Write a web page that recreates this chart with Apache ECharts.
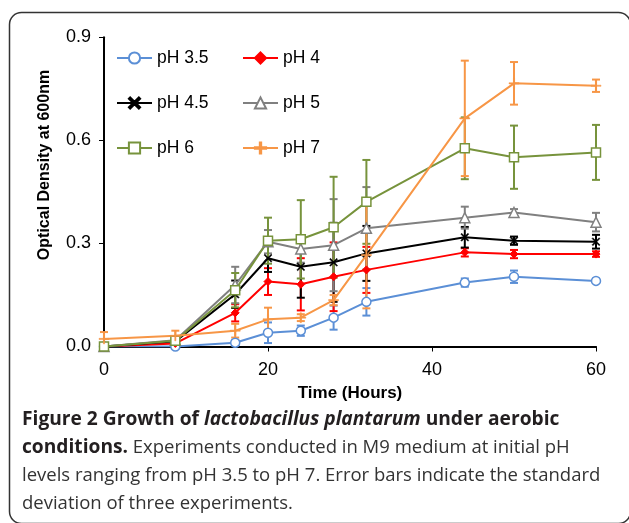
<!DOCTYPE html>
<html>
<head>
<meta charset="utf-8">
<script src="https://cdn.jsdelivr.net/npm/echarts@6/dist/echarts.min.js"></script>
<style>
html,body{margin:0;padding:0;background:#fff;}
#chart{width:629px;height:523px;}
</style>
</head>
<body>
<div id="chart"></div>
<script>
// ---- data ----
const times = [0, 8.7, 16, 20, 24, 28, 32, 44, 50, 60];
const seriesNames = ['pH 3.5', 'pH 4', 'pH 4.5', 'pH 5', 'pH 6', 'pH 7'];
const ph35 = [0, 0, 0.011, 0.040, 0.046, 0.084, 0.130, 0.186, 0.203, 0.191];
const ph35Err = [0.003, 0.003, 0.008, 0.030, 0.015, 0.035, 0.040, 0.012, 0.018, 0.006];
const ph4 = [0, 0.009, 0.098, 0.189, 0.181, 0.203, 0.223, 0.274, 0.269, 0.269];
const ph4Err = [0.003, 0.005, 0.025, 0.039, 0.076, 0.100, 0.067, 0.012, 0.012, 0.008];
const ph45 = [0, 0.015, 0.152, 0.257, 0.232, 0.245, 0.271, 0.318, 0.308, 0.305];
const ph45Err = [0.003, 0.005, 0.040, 0.040, 0.090, 0.115, 0.080, 0.030, 0.012, 0.020];
const ph5 = [0, 0.018, 0.179, 0.305, 0.284, 0.295, 0.344, 0.375, 0.390, 0.362];
const ph5Err = [0.003, 0.006, 0.053, 0.034, 0.040, 0.134, 0.120, 0.032, 0.010, 0.027];
const ph6 = [0, 0.017, 0.164, 0.308, 0.312, 0.347, 0.421, 0.577, 0.551, 0.565];
const ph6Err = [0.003, 0.008, 0.050, 0.067, 0.114, 0.147, 0.122, 0.090, 0.092, 0.080];
const ph7 = [0.022, 0.031, 0.046, 0.079, 0.084, 0.135, 0.266, 0.664, 0.766, 0.759];
const ph7Err = [0.020, 0.015, 0.020, 0.034, 0.010, 0.015, 0.155, 0.168, 0.062, 0.018];
const yTicks = [0, 0.3, 0.6, 0.9];
const xTicks = [0, 20, 40, 60];
const xTitle = 'Time (Hours)';
const yTitle = 'Optical Density at 600nm';

// ---- styles ----
const values = [ph35, ph4, ph45, ph5, ph6, ph7];
const errs = [ph35Err, ph4Err, ph45Err, ph5Err, ph6Err, ph7Err];
const colors = ['#5B8FD6', '#FF0000', '#000000', '#808080', '#77933C', '#F79646'];
const XPATH = 'path://M0,1.1L1.1,0L5,3.9L8.9,0L10,1.1L6.1,5L10,8.9L8.9,10L5,6.1L1.1,10L0,8.9L3.9,5Z';
const PLUS = 'path://M4.4,0H5.6V4.4H10V5.6H5.6V10H4.4V5.6H0V4.4H4.4Z';
const symbols = [
  {symbol: 'circle', size: 9, fill: '#fff', bw: 1.5},
  {symbol: 'diamond', size: 8, fill: '#FF0000', bw: 1},
  {symbol: XPATH, size: 8, fill: '#000', bw: 0.5},
  {symbol: 'triangle', size: 10, fill: '#fff', bw: 1.5},
  {symbol: 'rect', size: 9, fill: '#fff', bw: 1.5},
  {symbol: PLUS, size: 10, fill: '#F79646', bw: 0.5}
];
const FONT = 'Liberation Sans';

const series = [];
seriesNames.forEach((name, i) => {
  const c = colors[i];
  series.push({
    name: name + ' err',
    type: 'custom',
    z: 2,
    data: times.map((t, k) => [t, values[i][k], errs[i][k]]),
    renderItem: function (params, api) {
      const x = api.value(0), y = api.value(1), e = api.value(2);
      const top = api.coord([x, y + e]);
      const bot = api.coord([x, Math.max(0, y - e)]);
      const hw = 4;
      const st = {stroke: c, lineWidth: 2};
      return {
        type: 'group',
        children: [
          {type: 'line', shape: {x1: top[0], y1: top[1], x2: bot[0], y2: bot[1]}, style: st},
          {type: 'line', shape: {x1: top[0] - hw, y1: top[1], x2: top[0] + hw, y2: top[1]}, style: st},
          {type: 'line', shape: {x1: bot[0] - hw, y1: bot[1], x2: bot[0] + hw, y2: bot[1]}, style: st}
        ]
      };
    },
    silent: true
  });
});
seriesNames.forEach((name, i) => {
  const c = colors[i];
  const s = symbols[i];
  series.push({
    name: name,
    type: 'line',
    z: 3,
    data: times.map((t, k) => [t, values[i][k]]),
    symbol: s.symbol,
    symbolSize: s.size,
    showSymbol: true,
    lineStyle: {color: c, width: 2},
    itemStyle: {color: s.fill, borderColor: c, borderWidth: s.bw},
    emphasis: {disabled: true},
    animation: false
  });
});

const chart = echarts.init(document.getElementById('chart'), null, {renderer: 'canvas'});
chart.setOption({
  animation: false,
  backgroundColor: '#fff',
  grid: {left: 104, right: 33, top: 37.3, bottom: 176.5, containLabel: false},
  legend: {
    data: seriesNames,
    left: 111, top: 38, width: 260,
    orient: 'horizontal',
    itemWidth: 35, itemHeight: 14, itemGap: 15,
    textStyle: {fontFamily: FONT, fontSize: 17.5, color: '#000', width: 70, lineHeight: 30, overflow: 'none'},
    selectedMode: false
  },
  xAxis: {
    type: 'value', min: 0, max: 60, interval: 20,
    name: xTitle, nameLocation: 'middle', nameGap: 37,
    nameTextStyle: {fontFamily: FONT, fontSize: 17, fontWeight: 'bold', color: '#000'},
    axisLine: {show: true, lineStyle: {color: '#000', width: 2}},
    axisTick: {show: true, length: 5, lineStyle: {color: '#000', width: 1}},
    axisLabel: {fontFamily: FONT, fontSize: 18, color: '#000', margin: 15,
      formatter: v => xTicks.indexOf(v) >= 0 ? String(v) : ''},
    splitLine: {show: false}
  },
  yAxis: {
    type: 'value', min: 0, max: 0.9, interval: 0.3,
    axisLine: {show: true, lineStyle: {color: '#000', width: 2}},
    axisTick: {show: true, length: 5, lineStyle: {color: '#000', width: 1}},
    axisLabel: {fontFamily: FONT, fontSize: 18, color: '#000', margin: 13,
      formatter: v => yTicks.some(t => Math.abs(t - v) < 1e-9) ? v.toFixed(1) : ''},
    splitLine: {show: false}
  },
  graphic: [
    {type: 'rect', shape: {x: 9.5, y: 12.5, width: 621, height: 511, r: 12},
     style: {fill: 'none', stroke: '#333', lineWidth: 1.5}, z: -1},
    {type: 'text', x: 45, y: 165, rotation: Math.PI / 2,
     style: {text: yTitle, fontFamily: FONT, fontSize: 16, fontWeight: 'bold', fill: '#000',
       textAlign: 'center', textVerticalAlign: 'middle'}},
    {type: 'text', left: 22, top: 410,
     style: {
       text: '{b|Figure 2 Growth of }{bi|lactobacillus plantarum}{b| under aerobic}\n' +
             '{b|conditions.}{r| Experiments conducted in M9 medium at initial pH}\n' +
             '{r|levels ranging from pH 3.5 to pH 7. Error bars indicate the standard}\n' +
             '{r|deviation of three experiments.}',
       rich: {
         b: {fontFamily: 'Open Sans', fontSize: 19.2, fontWeight: 'bold', fill: '#231f20', lineHeight: 28},
         bi: {fontFamily: 'Open Sans', fontSize: 19.2, fontWeight: 'bold', fontStyle: 'italic', fill: '#231f20', lineHeight: 28},
         r: {fontFamily: 'Open Sans', fontSize: 18.5, fill: '#333', lineHeight: 28}
       }
     }}
  ],
  series: series
});
</script>
</body>
</html>
